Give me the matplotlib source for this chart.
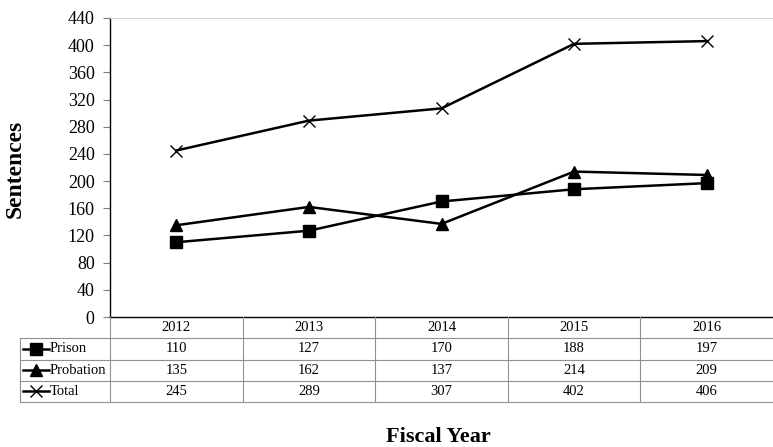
import matplotlib.pyplot as plt
import numpy as np

years = ["2012", "2013", "2014", "2015", "2016"]
series_names = ["Prison", "Probation", "Total"]
prison = [110, 127, 170, 188, 197]
probation = [135, 162, 137, 214, 209]
total = [245, 289, 307, 402, 406]
markers = ["s", "^", "x"]
yticks = list(range(0, 441, 40))

plt.rcParams["font.family"] = ["Liberation Serif", "DejaVu Serif"]

W, H = 773, 447
fig = plt.figure(figsize=(W / 100, H / 100), dpi=100)

# plot area in pixels
left, top, right, bottom = 110, 18, 773, 317
ax = fig.add_axes([left / W, 1 - bottom / H, (right - left) / W, (bottom - top) / H])

x = np.arange(len(years)) + 0.5
all_series = [prison, probation, total]
for vals, m in zip(all_series, markers):
    if m == "x":
        ax.plot(x, vals, color="black", lw=1.8, marker=m, ms=8, mew=1.0, clip_on=False)
    else:
        ax.plot(x, vals, color="black", lw=1.8, marker=m, ms=8, clip_on=False)

ax.set_xlim(0, len(years))
ax.set_ylim(0, 440)
ax.set_yticks(yticks)
ax.set_xticks([])
ax.tick_params(axis="y", labelsize=13, length=5, width=0.8, color="#808080", pad=6)
ax.spines["left"].set_color("black")
ax.spines["bottom"].set_color("black")
ax.spines["left"].set_linewidth(1.0)
ax.spines["bottom"].set_linewidth(1.0)
ax.spines["top"].set_color("#d0d0d0")
ax.spines["right"].set_visible(False)
ax.set_ylabel("Sentences", fontsize=17, fontweight="bold")
ax.yaxis.set_label_coords(-(left - 26) / (right - left), (bottom - 169) / (bottom - top))

# data table underneath
tleft, tbottom = 20, 402
unit = (right - left) / len(years)
tab = fig.add_axes([tleft / W, 1 - tbottom / H, (right - tleft) / W, (tbottom - bottom) / H])
tab.set_xlim(-(left - tleft) / unit, len(years))
tab.set_ylim(4, 0)
tab.axis("off")
grid = "#909090"
x0 = -(left - tleft) / unit
for r in range(1, 5):
    tab.plot([x0, len(years)], [r, r], color=grid, lw=0.8, clip_on=False)
tab.plot([x0, x0], [1, 4], color=grid, lw=0.8, clip_on=False)
for c in range(0, len(years)):
    tab.plot([c, c], [0, 4], color=grid, lw=0.8, clip_on=False)

for i, yr in enumerate(years):
    tab.text(i + 0.5, 0.5, yr, ha="center", va="center", fontsize=10.5)
for r, (name, vals, m) in enumerate(zip(series_names, all_series, markers)):
    row = r + 1.5
    for i, v in enumerate(vals):
        tab.text(i + 0.5, row, str(v), ha="center", va="center", fontsize=10.5)
    kx0 = x0 + 3 / unit
    kx1 = x0 + 29 / unit
    tab.plot([kx0, kx1], [row, row], color="black", lw=1.8)
    tab.plot([(kx0 + kx1) / 2], [row], color="black", marker=m,
             ms=8, mew=1.0)
    tab.text(x0 + 30 / unit, row, name, ha="left", va="center", fontsize=10.5)

fig.text(438 / W, 1 - 437 / H, "Fiscal Year", ha="center", va="center",
         fontsize=16, fontweight="bold")

fig.savefig("out.png", dpi=100)
